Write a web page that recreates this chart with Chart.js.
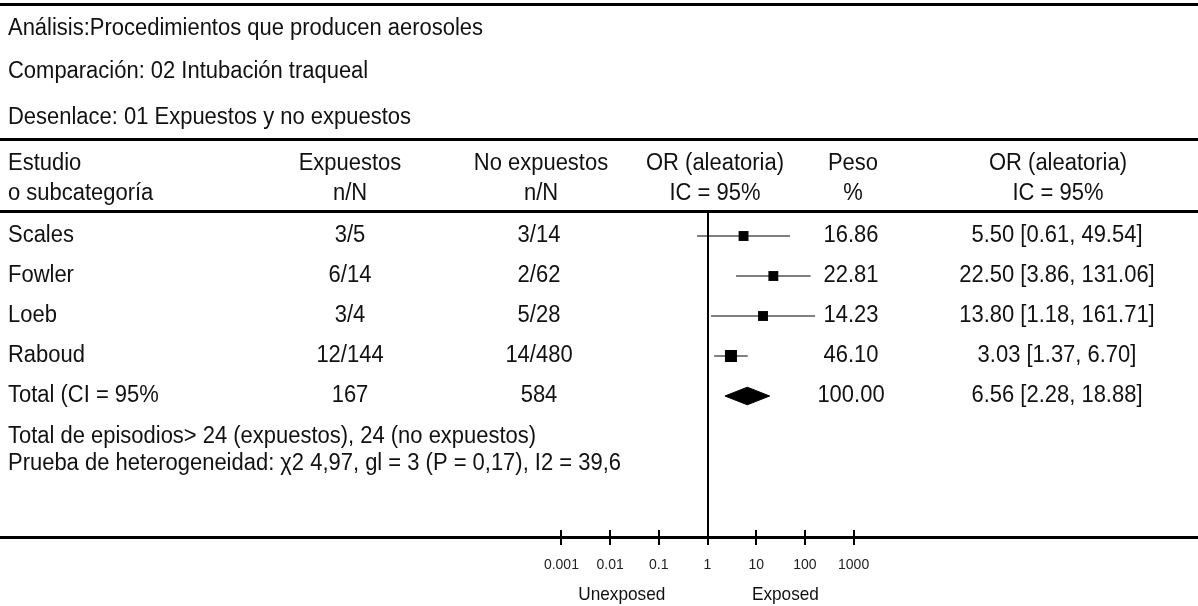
<!DOCTYPE html>
<html>
<head>
<meta charset="utf-8">
<script src="https://cdn.jsdelivr.net/npm/chart.js@4.4.1/dist/chart.umd.min.js"></script>
<style>
  html, body { margin: 0; padding: 0; background: #fff; }
  canvas { display: block; }
</style>
</head>
<body>
<canvas id="forest" width="1198" height="606"></canvas>
<script>
// header texts
const titleLines = [
  'Análisis:Procedimientos que producen aerosoles',
  'Comparación: 02 Intubación traqueal',
  'Desenlace: 01 Expuestos y no expuestos'
];
const headerTop = ['Estudio', 'Expuestos', 'No expuestos', 'OR (aleatoria)', 'Peso', 'OR (aleatoria)'];
const headerBottom = ['o subcategoría', 'n/N', 'n/N', 'IC = 95%', '%', 'IC = 95%'];

// study rows
const studies = ['Scales', 'Fowler', 'Loeb', 'Raboud'];
const exposed = ['3/5', '6/14', '3/4', '12/144'];
const unexposed = ['3/14', '2/62', '5/28', '14/480'];
const weights = [16.86, 22.81, 14.23, 46.10];
const oddsRatios = [5.50, 22.50, 13.80, 3.03];
const ciLower = [0.61, 3.86, 1.18, 1.37];
const ciUpper = [49.54, 131.06, 161.71, 6.70];

// pooled row
const totalLabel = 'Total (CI = 95%';
const totalExposed = 167;
const totalUnexposed = 584;
const totalWeight = 100.00;
const totalOR = 6.56;
const totalLower = 2.28;
const totalUpper = 18.88;

const footnotes = [
  'Total de episodios> 24 (expuestos), 24 (no expuestos)',
  'Prueba de heterogeneidad: χ2 4,97, gl = 3 (P = 0,17), I2 = 39,6'
];

// axis
const tickValues = [0.001, 0.01, 0.1, 1, 10, 100, 1000];
const tickLabels = ['0.001', '0.01', '0.1', '1', '10', '100', '1000'];
const sideLabels = ['Unexposed', 'Exposed'];

const FAMILY = '"Liberation Sans", Arial, sans-serif';
const totalRow = studies.length;

function orText(or, lo, hi) {
  return `${or.toFixed(2)} [${lo.toFixed(2)}, ${hi.toFixed(2)}]`;
}

// the source font is a slightly condensed Helvetica, so squeeze it a bit
function drawText(ctx, txt, x, y, align, size, squeeze) {
  ctx.save();
  ctx.translate(x, y);
  ctx.scale(squeeze, 1);
  ctx.font = `${size}px ${FAMILY}`;
  ctx.textAlign = align;
  ctx.textBaseline = 'middle';
  ctx.fillText(txt, 0, 0);
  ctx.restore();
}

const ciSets = studies.map((s, i) => ({
  type: 'scatter',
  label: s,
  data: [{x: ciLower[i], y: i}, {x: ciUpper[i], y: i}],
  showLine: true,
  borderColor: '#000',
  borderWidth: 1,
  pointRadius: 0
}));

const squares = {
  type: 'scatter',
  label: 'OR',
  data: oddsRatios.map((v, i) => ({x: v, y: i})),
  pointStyle: 'rect',
  pointRadius: [7, 7, 7, 8.5],
  backgroundColor: '#000',
  borderColor: '#000',
  borderWidth: 0
};

const halfH = 0.22;
const diamond = {
  type: 'scatter',
  label: 'Total',
  data: [
    {x: totalLower, y: totalRow},
    {x: totalOR, y: totalRow - halfH},
    {x: totalUpper, y: totalRow},
    {x: totalOR, y: totalRow + halfH},
    {x: totalLower, y: totalRow}
  ],
  showLine: true,
  fill: 'shape',
  backgroundColor: '#000',
  borderColor: '#000',
  borderWidth: 1,
  pointRadius: 0
};

const tablePlugin = {
  id: 'table',
  beforeDatasetsDraw(chart) {
    const {ctx, chartArea, scales: {x}} = chart;
    const px = Math.round(x.getPixelForValue(1));
    ctx.save();
    ctx.fillStyle = '#000';
    ctx.fillRect(px - 1, chartArea.top, 2, chartArea.bottom - chartArea.top);
    // upper half of the axis ticks
    tickValues.forEach(v => {
      const tx = Math.round(x.getPixelForValue(v));
      ctx.fillRect(tx - 1, chartArea.bottom - 7, 2, 7);
    });
    ctx.restore();
  },
  afterDraw(chart) {
    const {ctx, width, scales: {x, y}} = chart;
    ctx.save();
    ctx.fillStyle = '#000';
    // rules
    ctx.fillRect(0, 3, width, 3);
    ctx.fillRect(0, 138, width, 3);
    ctx.fillRect(0, 210, width, 3);

    ctx.fillStyle = '#111';
    const S = 23, SQ = 0.955;
    titleLines.forEach((t, i) => drawText(ctx, t, 8, [29, 72, 118][i], 'left', S, SQ));

    // column headers
    const hx = [[8, 'left'], [350, 'center'], [541, 'center'], [715, 'center'], [853, 'center'], [1058, 'center']];
    headerTop.forEach((t, i) => drawText(ctx, t, hx[i][0], 164, hx[i][1], S, SQ));
    headerBottom.forEach((t, i) => drawText(ctx, t, hx[i][0], 194, hx[i][1], S, SQ));

    const cols = [8, 350, 539, 851, 1057];
    const rowText = (vals, row) => {
      const yy = y.getPixelForValue(row);
      vals.forEach((v, k) => drawText(ctx, v, cols[k], yy, k === 0 ? 'left' : 'center', S, SQ));
    };
    studies.forEach((s, i) => {
      rowText([s, exposed[i], unexposed[i], weights[i].toFixed(2),
        orText(oddsRatios[i], ciLower[i], ciUpper[i])], i);
    });
    rowText([totalLabel, String(totalExposed), String(totalUnexposed), totalWeight.toFixed(2),
      orText(totalOR, totalLower, totalUpper)], totalRow);

    drawText(ctx, footnotes[0], 8, y.getPixelForValue(totalRow + 1.025), 'left', S, SQ);
    drawText(ctx, footnotes[1], 8, y.getPixelForValue(totalRow + 1.7), 'left', S, SQ);

    // side labels under the axis
    drawText(ctx, sideLabels[0], x.getPixelForValue(Math.pow(10, -1.76)), 595, 'center', 18.5, 0.93);
    drawText(ctx, sideLabels[1], x.getPixelForValue(Math.pow(10, 1.6)), 595, 'center', 18.5, 0.93);
    ctx.restore();
  }
};

// 1 sits at x≈707.5, one decade ≈ 48.7px
const decade = 48.7;
const onePx = 707.5;

new Chart(document.getElementById('forest'), {
  type: 'scatter',
  data: {datasets: [...ciSets, squares, diamond]},
  options: {
    responsive: false,
    devicePixelRatio: 1,
    animation: false,
    layout: {autoPadding: false, padding: {top: 212, left: 0, right: 0, bottom: 0}},
    plugins: {legend: {display: false}, tooltip: {enabled: false}},
    scales: {
      x: {
        type: 'logarithmic',
        bounds: 'data',
        min: Math.pow(10, -onePx / decade),
        max: Math.pow(10, (1198 - onePx) / decade),
        afterBuildTicks: axis => { axis.ticks = tickValues.map(v => ({value: v})); },
        afterFit: axis => { axis.height = 69; },
        border: {display: true, color: '#000', width: 3},
        grid: {drawOnChartArea: false, drawTicks: true, tickLength: 8, color: '#000', lineWidth: 2},
        ticks: {
          autoSkip: false,
          maxRotation: 0,
          padding: 12,
          color: '#222',
          font: {family: FAMILY, size: 14},
          callback: (v, i) => tickLabels[i]
        }
      },
      y: {
        type: 'linear',
        display: false,
        reverse: true,
        min: -0.6,
        max: 7.525
      }
    }
  },
  plugins: [tablePlugin]
});
</script>
</body>
</html>
